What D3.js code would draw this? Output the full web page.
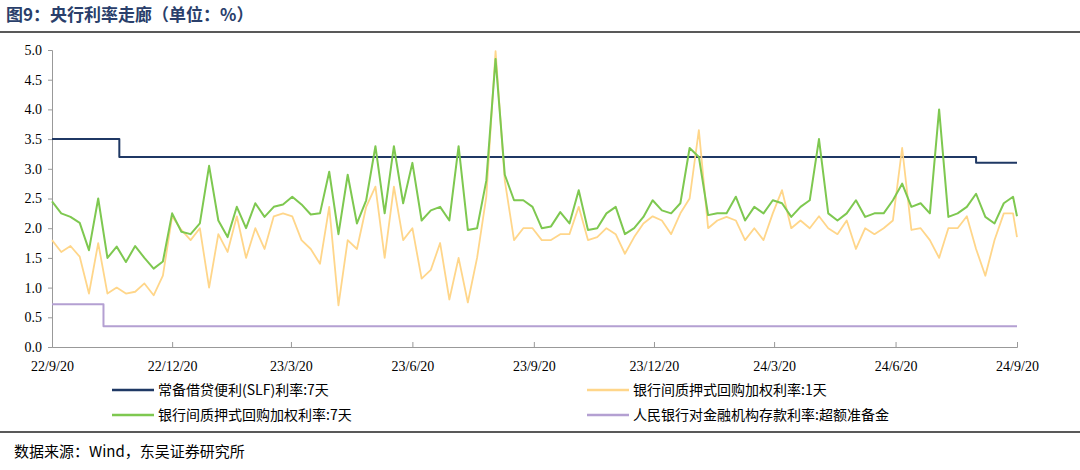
<!DOCTYPE html>
<html><head><meta charset="utf-8">
<script src="https://cdn.jsdelivr.net/npm/d3@7/dist/d3.min.js"></script>
<style>body{margin:0;background:#fff}</style></head>
<body><svg id="c" width="1080" height="470"></svg>
<script>
const startDate = "2022-09-20";
const endDate = "2024-09-20";
// weekly observations starting 2022-09-20, final point on 2024-09-20
const repo7d = [2.45,2.25,2.19,2.09,1.63,2.5,1.5,1.69,1.43,1.7,1.5,1.32,1.44,2.25,1.94,1.9,2.08,3.05,2.13,1.85,2.36,2.0,2.42,2.19,2.36,2.4,2.53,2.4,2.23,2.25,2.95,1.9,2.9,2.08,2.47,3.38,2.25,3.38,2.42,3.1,2.13,2.3,2.36,2.13,3.38,1.97,2.0,2.8,4.85,2.9,2.47,2.47,2.36,2.0,2.03,2.27,2.08,2.64,1.97,2.0,2.25,2.36,1.9,2.0,2.19,2.47,2.3,2.25,2.42,3.35,3.2,2.22,2.25,2.25,2.53,2.13,2.36,2.25,2.47,2.42,2.19,2.36,2.47,3.5,2.25,2.13,2.25,2.47,2.19,2.25,2.25,2.47,2.75,2.36,2.42,2.25,4.0,2.19,2.25,2.36,2.58,2.19,2.08,2.42,2.53,2.2];
const repo1d = [1.8,1.6,1.7,1.52,0.9,1.75,0.9,1.0,0.9,0.93,1.07,0.87,1.2,2.2,1.97,1.8,2.0,1.0,1.9,1.6,2.2,1.5,2.0,1.65,2.2,2.25,2.2,1.8,1.65,1.4,2.36,0.7,1.8,1.65,2.36,2.7,1.5,2.7,1.8,2.0,1.15,1.3,1.75,0.8,1.5,0.75,1.5,2.53,4.98,2.8,1.8,2.0,2.0,1.8,1.8,1.9,1.9,2.36,1.8,1.85,2.0,1.9,1.57,1.85,2.08,2.2,2.13,1.9,2.25,2.5,3.65,2.0,2.13,2.19,2.13,1.8,2.0,1.8,2.25,2.64,2.0,2.13,2.0,2.2,2.0,1.9,2.13,1.65,2.0,1.9,2.0,2.13,3.35,1.97,2.0,1.8,1.5,2.0,2.0,2.2,1.65,1.2,1.8,2.25,2.25,1.85];
const slfDates = ["2022-09-20","2022-11-10","2024-08-20","2024-09-20"];
const slfValues = [3.5,3.2,3.1,3.1];
const excessDates = ["2022-09-20","2022-10-29","2024-09-20"];
const excessValues = [0.72,0.35,0.35];
const yTicks = [0,0.5,1,1.5,2,2.5,3,3.5,4,4.5,5];
const xTickDates = ["2022-09-20","2022-12-20","2023-03-20","2023-06-20","2023-09-20","2023-12-20","2024-03-20","2024-06-20","2024-09-20"];
const xTickLabels = ["22/9/20","22/12/20","23/3/20","23/6/20","23/9/20","23/12/20","24/3/20","24/6/20","24/9/20"];
const legendNames = ["常备借贷便利(SLF)利率:7天","银行间质押式回购加权利率:1天","银行间质押式回购加权利率:7天","人民银行对金融机构存款利率:超额准备金"];
const colors = ["#1f3864","#ffd68a","#7ec850","#b4a0d2"];

const P = d3.timeParse("%Y-%m-%d");
const s0 = P(startDate);
const weekDates = repo7d.map((d,i)=> i===repo7d.length-1 ? P(endDate) : d3.timeDay.offset(s0, i*7));
const svg = d3.select("#c");
const x = d3.scaleTime().domain([P(startDate),P(endDate)]).range([52,1017]);
const y = d3.scaleLinear().domain([0,5]).range([347,50]);
const serif = "'Liberation Serif','Times New Roman',serif";
const cjk = "'Noto Sans CJK SC',sans-serif";

svg.append("text").attr("x",6).attr("y",21).attr("font-family",cjk).attr("font-weight","bold")
  .attr("font-size",17).attr("fill","#2a3f6b").text("图9：央行利率走廊（单位：%）");
svg.append("line").attr("x1",0).attr("x2",1080).attr("y1",32).attr("y2",32).attr("stroke","#222").attr("stroke-width",1.5);
svg.append("line").attr("x1",0).attr("x2",1080).attr("y1",432).attr("y2",432).attr("stroke","#222").attr("stroke-width",1.5);

const ya = svg.append("g").attr("transform","translate(52,0)")
  .call(d3.axisLeft(y).tickValues(yTicks).tickFormat(d3.format(".1f")).tickSize(4).tickPadding(6));
const xa = svg.append("g").attr("transform","translate(0,347)")
  .call(d3.axisBottom(x).tickValues(xTickDates.map(P)).tickFormat((d,i)=>xTickLabels[i]).tickSize(-5).tickPadding(14));
[ya,xa].forEach(g=>{g.selectAll("path,line").attr("stroke","#999");
  g.selectAll("text").attr("font-family",serif).attr("font-size",14).attr("fill","#000");});

const line = d3.line().x(d=>x(d[0])).y(d=>y(d[1]));
const step = d3.line().x(d=>x(d[0])).y(d=>y(d[1])).curve(d3.curveStepAfter);
function draw(gen,pts,c,w){svg.append("path").attr("d",gen(pts)).attr("fill","none").attr("stroke",c).attr("stroke-width",w).attr("stroke-linejoin","round");}
draw(step, excessDates.map((d,i)=>[P(d),excessValues[i]]), colors[3], 2);
draw(step, slfDates.map((d,i)=>[P(d),slfValues[i]]), colors[0], 2);
draw(line, weekDates.map((d,i)=>[d,repo1d[i]]), colors[1], 1.8);
draw(line, weekDates.map((d,i)=>[d,repo7d[i]]), colors[2], 2);

const lpos = [[112,390],[587,390],[112,415],[587,415]];
legendNames.forEach((n,i)=>{
  const [lx,ly]=lpos[i];
  svg.append("line").attr("x1",lx).attr("x2",lx+42).attr("y1",ly).attr("y2",ly).attr("stroke",colors[i]).attr("stroke-width",2.5);
  svg.append("text").attr("x",lx+46).attr("y",ly+5).attr("font-family",cjk).attr("font-size",14).attr("fill","#000").text(n);
});
svg.append("text").attr("x",14).attr("y",457).attr("font-family",cjk).attr("font-size",15).attr("fill","#000").text("数据来源：Wind，东吴证券研究所");
</script></body></html>
